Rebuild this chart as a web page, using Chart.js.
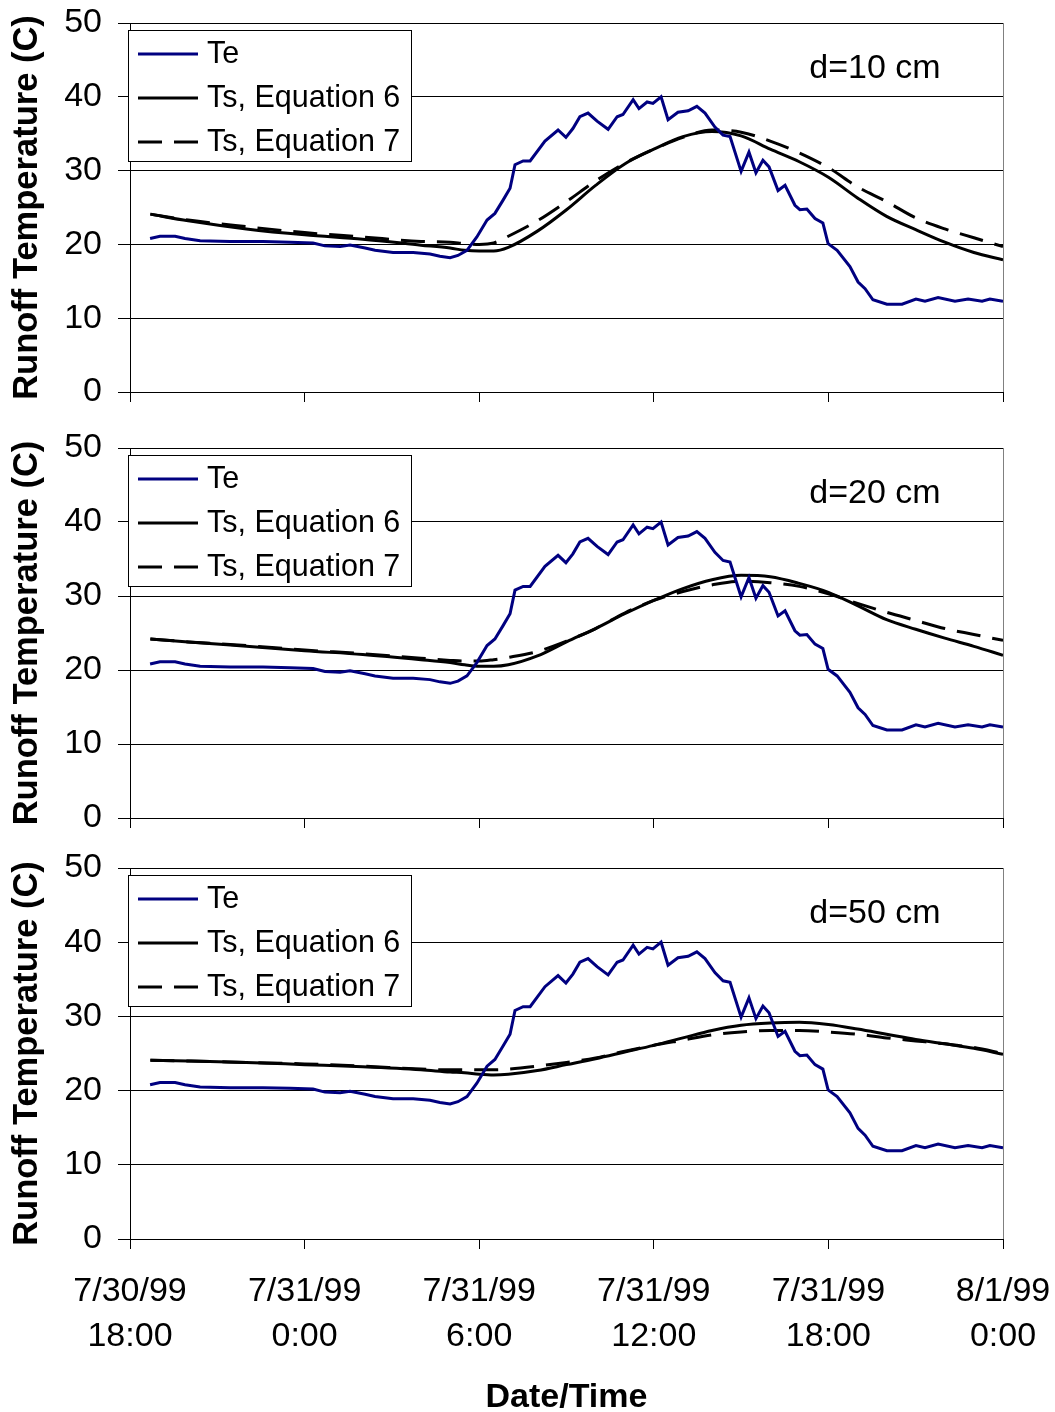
<!DOCTYPE html>
<html>
<head>
<meta charset="utf-8">
<title>Runoff temperature</title>
<script src="https://cdn.jsdelivr.net/npm/chart.js@4.4.0/dist/chart.umd.min.js"></script>
<style>
  html, body { margin: 0; padding: 0; background: #fff; }
  #wrap { position: relative; width: 1055px; height: 1412px; }
  canvas { position: absolute; left: 0; }
</style>
</head>
<body>
<div id="wrap">
  <canvas id="p1" width="1055" height="420" style="top:0px"></canvas>
  <canvas id="p2" width="1055" height="420" style="top:420px"></canvas>
  <canvas id="p3" width="1055" height="572" style="top:840px"></canvas>
</div>
<script>
// Time axis: hours after 7/30/99 18:00
const tickDates = ['7/30/99', '7/31/99', '7/31/99', '7/31/99', '7/31/99', '8/1/99'];
const tickTimes = ['18:00', '0:00', '6:00', '12:00', '18:00', '0:00'];

// Measured runoff temperature Te (C)
const teHours = [0.69, 1.03, 1.55, 1.89, 2.41, 3.44, 4.57, 5.50, 6.29, 6.70, 7.22, 7.56, 8.08, 8.42,
  9.04, 9.73, 10.31, 10.65, 11.00, 11.27, 11.58, 11.92, 12.27, 12.54, 12.82, 13.06, 13.23, 13.51,
  13.75, 14.26, 14.71, 14.98, 15.22, 15.46, 15.74, 16.05, 16.43, 16.74, 16.94, 17.29, 17.49, 17.77,
  17.97, 18.25, 18.49, 18.83, 19.18, 19.48, 19.76, 20.10, 20.38, 20.62, 21.00, 21.27, 21.51, 21.75,
  21.96, 22.27, 22.51, 22.85, 23.02, 23.26, 23.54, 23.81, 23.99, 24.30, 24.74, 25.02, 25.26, 25.53,
  26.01, 26.53, 27.01, 27.32, 27.77, 28.35, 28.80, 29.28, 29.55, 30.00];
const teTemp = [20.8, 21.1, 21.1, 20.8, 20.5, 20.4, 20.4, 20.3, 20.2, 19.8, 19.7, 19.9, 19.5, 19.2,
  18.9, 18.9, 18.7, 18.4, 18.2, 18.5, 19.2, 21.0, 23.3, 24.2, 26.0, 27.6, 30.8, 31.3,
  31.3, 34.0, 35.5, 34.5, 35.7, 37.3, 37.8, 36.7, 35.6, 37.3, 37.6, 39.6, 38.4, 39.3,
  39.1, 40.0, 36.9, 37.9, 38.1, 38.7, 37.8, 35.9, 34.8, 34.6, 29.9, 32.5, 29.7, 31.4,
  30.5, 27.3, 28.0, 25.3, 24.7, 24.8, 23.5, 22.9, 20.1, 19.2, 17.0, 14.9, 14.0, 12.5,
  11.9, 11.9, 12.6, 12.3, 12.8, 12.3, 12.6, 12.3, 12.6, 12.3];

// Simulated runoff temperature Ts (C)
const tsHours = [0.7, 2, 4, 6, 8, 10, 11, 11.5, 12, 12.5, 13, 14, 15, 16, 17, 18, 19, 20, 21, 22, 23,
  24, 25, 26, 27, 28, 29, 30];
const ts6d10 = [24.1, 23.2, 22.1, 21.3, 20.7, 19.9, 19.5, 19.2, 19.1, 19.1, 19.6, 21.8, 24.7, 28.0,
  30.9, 32.9, 34.6, 35.3, 34.7, 32.9, 31.2, 29.1, 26.3, 23.8, 22.0, 20.3, 18.9, 17.9];
const ts7d10 = [24.1, 23.3, 22.4, 21.6, 21.0, 20.4, 20.3, 20.1, 20.0, 20.2, 21.1, 23.2, 25.8, 28.6,
  31.0, 32.9, 34.5, 35.5, 35.2, 34.0, 32.4, 30.4, 27.8, 25.8, 23.6, 22.1, 20.9, 19.7];
const ts6d20 = [24.2, 23.8, 23.2, 22.6, 22.1, 21.4, 21.0, 20.7, 20.5, 20.5, 20.7, 21.9, 23.8, 25.6,
  27.6, 29.4, 31.0, 32.2, 32.8, 32.6, 31.7, 30.5, 28.7, 26.8, 25.5, 24.3, 23.2, 22.0];
const ts7d20 = [24.2, 23.8, 23.3, 22.7, 22.2, 21.6, 21.3, 21.2, 21.2, 21.4, 21.7, 22.5, 23.9, 25.6,
  27.7, 29.4, 30.6, 31.5, 32.0, 31.8, 31.3, 30.3, 29.0, 27.8, 26.7, 25.6, 24.8, 24.0];
const ts6d50 = [24.1, 24.0, 23.8, 23.5, 23.2, 22.8, 22.5, 22.4, 22.2, 22.1, 22.2, 22.7, 23.5, 24.3,
  25.2, 26.1, 27.1, 28.1, 28.8, 29.1, 29.2, 28.9, 28.3, 27.6, 26.9, 26.3, 25.7, 24.9];
const ts7d50 = [24.1, 24.0, 23.8, 23.6, 23.3, 22.9, 22.8, 22.8, 22.8, 22.8, 22.9, 23.3, 23.8, 24.4,
  25.3, 26.1, 26.8, 27.5, 27.9, 28.1, 28.1, 27.9, 27.6, 27.1, 26.7, 26.3, 25.8, 25.0];

const seriesNames = ['Te', 'Ts, Equation 6', 'Ts, Equation 7'];
const depthLabels = ['d=10 cm', 'd=20 cm', 'd=50 cm'];

const FONT = "'Liberation Sans', Arial, Helvetica, sans-serif";
Chart.defaults.font.family = FONT;
Chart.defaults.color = '#000';

const pairs = (xs, ys) => xs.map((x, i) => ({ x: x, y: ys[i] }));

// Boxed legend, depth note, rotated axis title and right frame edge
const panelDecor = {
  id: 'panelDecor',
  afterDatasetsDraw(chart, args, opts) {
    const ctx = chart.ctx;
    const a = chart.chartArea;
    ctx.save();
    // right edge of the plot frame
    ctx.strokeStyle = '#808080';
    ctx.lineWidth = 1;
    ctx.beginPath();
    ctx.moveTo(Math.round(a.right) + 0.5, a.top);
    ctx.lineTo(Math.round(a.right) + 0.5, a.bottom);
    ctx.stroke();

    // legend box
    const bx = a.left - 2, by = a.top + 7, bw = 283, bh = 131;
    ctx.fillStyle = '#fff';
    ctx.fillRect(bx, by, bw, bh);
    ctx.strokeStyle = '#000';
    ctx.lineWidth = 1;
    ctx.strokeRect(bx + 0.5, by + 0.5, bw, bh);
    ctx.font = '30.5px ' + FONT;
    ctx.textBaseline = 'middle';
    ctx.textAlign = 'left';
    chart.data.datasets.forEach((ds, i) => {
      const yy = by + 24 + i * 44;
      ctx.save();
      ctx.strokeStyle = ds.borderColor;
      ctx.lineWidth = ds.borderWidth;
      ctx.setLineDash(ds.borderDash || []);
      ctx.beginPath();
      ctx.moveTo(bx + 10, yy);
      ctx.lineTo(bx + 70, yy);
      ctx.stroke();
      ctx.restore();
      ctx.fillStyle = '#000';
      ctx.fillText(ds.label, bx + 79, yy + 1);
    });

    // depth note
    ctx.font = '34px ' + FONT;
    ctx.textAlign = 'center';
    ctx.fillStyle = '#000';
    ctx.fillText(opts.note, 875, a.top + 46);

    // y-axis title
    ctx.translate(27, (a.top + a.bottom) / 2);
    ctx.rotate(-Math.PI / 2);
    ctx.font = 'bold 34.5px ' + FONT;
    ctx.fillText('Runoff Temperature (C)', 0, 0);
    ctx.restore();
  }
};

function makePanel(id, idx, ts6, ts7, padTop, xHeight, showLabels) {
  return new Chart(document.getElementById(id), {
    type: 'line',
    data: {
      datasets: [
        { label: seriesNames[0], data: pairs(teHours, teTemp), borderColor: '#000080',
          borderWidth: 3, pointRadius: 0, tension: 0 },
        { label: seriesNames[1], data: pairs(tsHours, ts6), borderColor: '#000000',
          borderWidth: 3, pointRadius: 0, cubicInterpolationMode: 'monotone' },
        { label: seriesNames[2], data: pairs(tsHours, ts7), borderColor: '#000000',
          borderWidth: 3, borderDash: [24, 12], pointRadius: 0, cubicInterpolationMode: 'monotone' }
      ]
    },
    options: {
      responsive: false,
      animation: false,
      events: [],
      layout: { padding: { top: padTop, left: 0, right: 52, bottom: 0 } },
      plugins: {
        legend: { display: false },
        tooltip: { enabled: false },
        panelDecor: { note: depthLabels[idx] }
      },
      scales: {
        x: {
          type: 'linear', min: 0, max: 30,
          afterFit: s => { s.height = xHeight; s.paddingLeft = 0; s.paddingRight = 0; },
          ticks: {
            display: showLabels, stepSize: 6, autoSkip: false, maxRotation: 0,
            padding: 21, font: { size: 34, lineHeight: 1.3 }, color: '#000',
            callback: v => [tickDates[v / 6], tickTimes[v / 6]]
          },
          grid: { drawOnChartArea: false, drawTicks: true, tickLength: 10, color: '#000' },
          border: { color: '#000', width: 1 },
          title: {
            display: showLabels, text: 'Date/Time', color: '#000',
            font: { size: 34, weight: 'bold', lineHeight: 0.82 }, padding: 0
          }
        },
        y: {
          min: 0, max: 50,
          afterFit: s => { s.width = 130; s.paddingTop = 0; s.paddingBottom = 0; },
          ticks: { stepSize: 10, padding: 16, font: { size: 34 }, color: '#000' },
          grid: { color: '#000', tickLength: 12, lineWidth: 1 },
          border: { color: '#000', width: 1 }
        }
      }
    },
    plugins: [panelDecor]
  });
}

makePanel('p1', 0, ts6d10, ts7d10, 23, 28, false);
makePanel('p2', 1, ts6d20, ts7d20, 28, 22, false);
makePanel('p3', 2, ts6d50, ts7d50, 28, 173, true);
</script>
</body>
</html>
